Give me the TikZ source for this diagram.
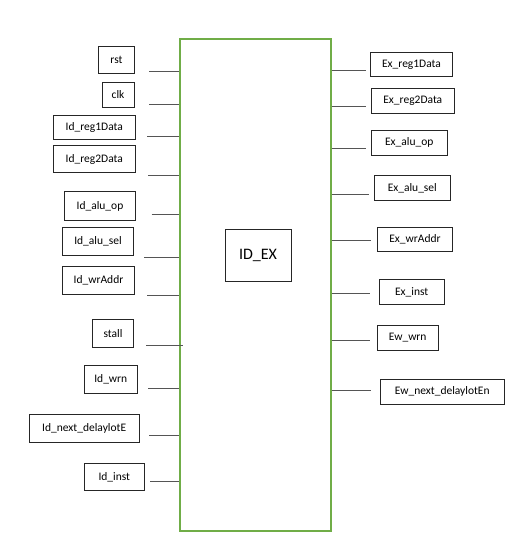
\documentclass[tikz,border=0pt]{standalone}
\usepackage{fontspec}
\setmainfont{Carlito}
\definecolor{boxgreen}{HTML}{70AD47}
\definecolor{wirecol}{HTML}{555555}
\begin{document}
\begin{tikzpicture}[x=1pt,y=-1pt,
  lbl/.style={draw=black!85, line width=0.9pt, inner sep=0pt, font=\fontsize{11.5}{13.8}\selectfont},
  wire/.style={draw=wirecol, line width=0.9pt},
  mainbox/.style={draw=boxgreen, line width=1.6pt, inner sep=0pt, minimum width=151pt, minimum height=492pt}]
\useasboundingbox (0,0) rectangle (518,551);
\fill[white] (0,0) rectangle (518,551);
% main block
\node[mainbox] (main) at (255.5,285) {};
\node[lbl, minimum width=66pt, minimum height=52pt, font=\fontsize{16}{19}\selectfont] (idex) at (258,255) {ID\_EX};
% left inputs
\node[lbl, minimum width=35.6pt, minimum height=27pt] (rst) at (116.5,59.8) {rst};
\node[lbl, minimum width=32pt, minimum height=25pt] (clk) at (118,94.8) {clk};
\node[lbl, minimum width=81.3pt, minimum height=24.4pt] (r1) at (94.3,127.5) {Id\_reg1Data};
\node[lbl, minimum width=81.3pt, minimum height=26.6pt] (r2) at (94.3,159) {Id\_reg2Data};
\node[lbl, minimum width=71.4pt, minimum height=28.6pt] (aop) at (100,206) {Id\_alu\_op};
\node[lbl, minimum width=71.4pt, minimum height=28pt] (asel) at (98,241.3) {Id\_alu\_sel};
\node[lbl, minimum width=71.6pt, minimum height=28.4pt] (wra) at (98.5,280.5) {Id\_wrAddr};
\node[lbl, minimum width=40.6pt, minimum height=28.3pt] (stall) at (113,333.2) {stall};
\node[lbl, minimum width=53pt, minimum height=28.3pt] (wrn) at (110.8,379.2) {Id\_wrn};
\node[lbl, minimum width=109.7pt, minimum height=28.3pt] (nd) at (84.2,428.2) {Id\_next\_delaylotE};
\node[lbl, minimum width=60pt, minimum height=26.6pt] (inst) at (114.3,477) {Id\_inst};
% left stubs
\coordinate (c1) at (149,71);
\coordinate (c2) at (149,104);
\coordinate (c3) at (147,136.7);
\coordinate (c4) at (148,175.7);
\coordinate (c5) at (151.7,214.7);
\coordinate (c6) at (144.3,257);
\coordinate (c7) at (147,295.3);
\coordinate (c8) at (146,345.7);
\coordinate (c8e) at (182.7,345.7);
\coordinate (c9) at (148.3,388);
\coordinate (c10) at (149,435.3);
\coordinate (c11) at (150,481.3);
\foreach \c in {c1,c2,c3,c4,c5,c6,c7,c9,c10,c11}
  \draw[wire] (\c) -- (\c -| main.west);
\draw[wire] (c8) -- (c8e);
% right outputs
\node[lbl, minimum width=82.4pt, minimum height=24.4pt] (o1) at (411.5,64.5) {Ex\_reg1Data};
\node[lbl, minimum width=82.3pt, minimum height=24.7pt] (o2) at (412.8,100.7) {Ex\_reg2Data};
\node[lbl, minimum width=75.3pt, minimum height=25.3pt] (o3) at (409.3,142.7) {Ex\_alu\_op};
\node[lbl, minimum width=75.3pt, minimum height=25.4pt] (o4) at (412.3,188) {Ex\_alu\_sel};
\node[lbl, minimum width=75.4pt, minimum height=24.7pt] (o5) at (415,239.3) {Ex\_wrAddr};
\node[lbl, minimum width=64.7pt, minimum height=25pt] (o6) at (411.7,292.2) {Ex\_inst};
\node[lbl, minimum width=60.7pt, minimum height=24.6pt] (o7) at (407.7,338) {Ew\_wrn};
\node[lbl, minimum width=124pt, minimum height=24.3pt] (o8) at (442.3,391.8) {Ew\_next\_delaylotEn};
% right stubs
\coordinate (d1) at (366,70.7);
\coordinate (d2) at (366,106.7);
\coordinate (d3) at (366,148.7);
\coordinate (d4) at (369.3,194.7);
\coordinate (d5) at (370.7,240);
\coordinate (d6) at (370,293.7);
\coordinate (d7) at (370,340.3);
\coordinate (d8) at (370.7,390.3);
\foreach \d in {d1,d2,d3,d4,d5,d6,d7,d8}
  \draw[wire] (\d -| main.east) -- (\d);
\end{tikzpicture}
\end{document}
